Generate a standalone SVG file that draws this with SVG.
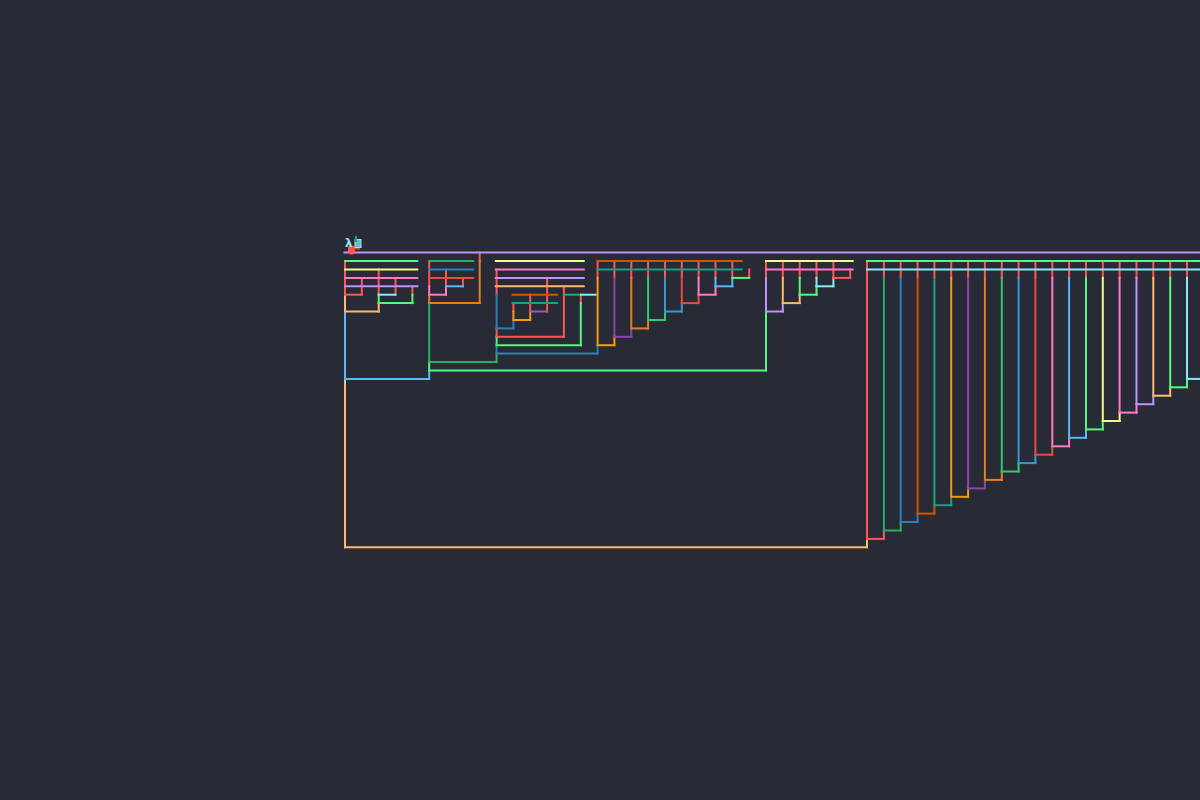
<svg xmlns="http://www.w3.org/2000/svg" width="1200" height="800" viewBox="0 0 1200 800">
<style>
line{stroke-width:2;stroke-linecap:square;fill:none}
.r{stroke:#ff5555}.lav{stroke:#bd93f9}.g{stroke:#50fa7b}.y{stroke:#f1fa8c}.pk{stroke:#ff79c6}
.cy{stroke:#8be9fd}.pe{stroke:#ffb86c}.lb{stroke:#5ab9f2}.dg{stroke:#27ae60}.bl{stroke:#2980b9}
.rd{stroke:#e74c3c}.do{stroke:#d35400}.tl{stroke:#16a085}.or{stroke:#f39c12}.pu{stroke:#8e44ad}
.pu2{stroke:#9b59b6}.o2{stroke:#e67e22}.g2{stroke:#2ecc71}.b2{stroke:#3498db}
text{font-family:"DejaVu Sans",sans-serif}
</style>
<rect width="1200" height="800" fill="#282a36"/>
<g id="connectors">
<g id="block-a">
<line class="r" x1="345" y1="261" x2="345" y2="294.7"/>
<line class="pe" x1="345" y1="294.7" x2="345" y2="311.5"/>
<line class="lb" x1="345" y1="311.5" x2="345" y2="378.9"/>
<line class="pe" x1="345" y1="378.9" x2="345" y2="547.3"/>
<line class="r" x1="361.8" y1="277.9" x2="361.8" y2="294.7"/>
<line class="r" x1="378.7" y1="269.4" x2="378.7" y2="294.7"/>
<line class="g" x1="378.7" y1="294.7" x2="378.7" y2="303.1"/>
<line class="pe" x1="378.7" y1="303.1" x2="378.7" y2="311.5"/>
<line class="r" x1="395.5" y1="277.9" x2="395.5" y2="294.7"/>
<line class="r" x1="412.4" y1="286.3" x2="412.4" y2="294.7"/>
<line class="g" x1="412.4" y1="294.7" x2="412.4" y2="303.1"/>
<line class="r" x1="345" y1="294.7" x2="361.8" y2="294.7"/>
<line class="cy" x1="378.7" y1="294.7" x2="395.5" y2="294.7"/>
<line class="g" x1="378.7" y1="303.1" x2="412.4" y2="303.1"/>
<line class="pe" x1="345" y1="311.5" x2="378.7" y2="311.5"/>
<line class="g" x1="345" y1="261" x2="417.3" y2="261"/>
<line class="y" x1="345" y1="269.4" x2="417.3" y2="269.4"/>
<line class="pk" x1="345" y1="277.9" x2="417.3" y2="277.9"/>
<line class="lav" x1="345" y1="286.3" x2="417.3" y2="286.3"/>
</g>
<g id="block-b">
<line class="r" x1="429.2" y1="261" x2="429.2" y2="286.3"/>
<line class="pk" x1="429.2" y1="286.3" x2="429.2" y2="294.7"/>
<line class="o2" x1="429.2" y1="294.7" x2="429.2" y2="303.1"/>
<line class="dg" x1="429.2" y1="303.1" x2="429.2" y2="362.1"/>
<line class="g" x1="429.2" y1="362.1" x2="429.2" y2="370.5"/>
<line class="lb" x1="429.2" y1="370.5" x2="429.2" y2="378.9"/>
<line class="r" x1="446" y1="269.4" x2="446" y2="286.3"/>
<line class="pk" x1="446" y1="286.3" x2="446" y2="294.7"/>
<line class="r" x1="462.9" y1="277.9" x2="462.9" y2="286.3"/>
<line class="r" x1="479.7" y1="252.6" x2="479.7" y2="261"/>
<line class="o2" x1="479.7" y1="261" x2="479.7" y2="303.1"/>
<line class="lb" x1="446" y1="286.3" x2="462.9" y2="286.3"/>
<line class="pk" x1="429.2" y1="294.7" x2="446" y2="294.7"/>
<line class="o2" x1="429.2" y1="303.1" x2="479.7" y2="303.1"/>
<line class="dg" x1="429" y1="261" x2="473.3" y2="261"/>
<line class="bl" x1="429" y1="269.4" x2="473.3" y2="269.4"/>
<line class="rd" x1="429" y1="277.9" x2="473.3" y2="277.9"/>
</g>
<g id="block-c">
<line class="r" x1="496.6" y1="269.4" x2="496.6" y2="294.7"/>
<line class="bl" x1="496.6" y1="294.7" x2="496.6" y2="328.4"/>
<line class="r" x1="496.6" y1="328.4" x2="496.6" y2="336.8"/>
<line class="g" x1="496.6" y1="336.8" x2="496.6" y2="345.2"/>
<line class="bl" x1="496.6" y1="345.2" x2="496.6" y2="353.6"/>
<line class="dg" x1="496.6" y1="353.6" x2="496.6" y2="362.1"/>
<line class="r" x1="513.4" y1="303.1" x2="513.4" y2="311.5"/>
<line class="or" x1="513.4" y1="311.5" x2="513.4" y2="320"/>
<line class="bl" x1="513.4" y1="320" x2="513.4" y2="328.4"/>
<line class="r" x1="530.2" y1="294.7" x2="530.2" y2="311.5"/>
<line class="or" x1="530.2" y1="311.5" x2="530.2" y2="320"/>
<line class="r" x1="547.1" y1="277.9" x2="547.1" y2="311.5"/>
<line class="r" x1="563.9" y1="286.3" x2="563.9" y2="336.8"/>
<line class="r" x1="580.8" y1="294.7" x2="580.8" y2="303.1"/>
<line class="g" x1="580.8" y1="303.1" x2="580.8" y2="345.2"/>
<line class="pu2" x1="530.2" y1="311.5" x2="547.1" y2="311.5"/>
<line class="or" x1="513.4" y1="320" x2="530.2" y2="320"/>
<line class="bl" x1="496.6" y1="328.4" x2="513.4" y2="328.4"/>
<line class="r" x1="496.6" y1="336.8" x2="563.9" y2="336.8"/>
<line class="g" x1="496.6" y1="345.2" x2="580.8" y2="345.2"/>
<line class="bl" x1="496.6" y1="353.6" x2="597.6" y2="353.6"/>
<line class="y" x1="495.8" y1="261" x2="583.7" y2="261"/>
<line class="pk" x1="495.8" y1="269.4" x2="583.7" y2="269.4"/>
<line class="lav" x1="495.8" y1="277.9" x2="583.7" y2="277.9"/>
<line class="pe" x1="495.8" y1="286.3" x2="583.7" y2="286.3"/>
<line class="do" x1="512.6" y1="294.7" x2="557" y2="294.7"/>
<line class="tl" x1="512.6" y1="303.1" x2="557" y2="303.1"/>
<line class="dg" x1="564.5" y1="294.7" x2="580" y2="294.7"/>
<line class="cy" x1="581" y1="294.7" x2="595.7" y2="294.7"/>
</g>
<g id="block-d">
<line class="r" x1="597.6" y1="261" x2="597.6" y2="277.9"/>
<line class="or" x1="597.6" y1="277.9" x2="597.6" y2="345.2"/>
<line class="bl" x1="597.6" y1="345.2" x2="597.6" y2="353.6"/>
<line class="r" x1="614.4" y1="261" x2="614.4" y2="277.9"/>
<line class="pu" x1="614.4" y1="277.9" x2="614.4" y2="336.8"/>
<line class="or" x1="614.4" y1="336.8" x2="614.4" y2="345.2"/>
<line class="r" x1="631.3" y1="261" x2="631.3" y2="277.9"/>
<line class="o2" x1="631.3" y1="277.9" x2="631.3" y2="328.4"/>
<line class="pu" x1="631.3" y1="328.4" x2="631.3" y2="336.8"/>
<line class="r" x1="648.1" y1="261" x2="648.1" y2="277.9"/>
<line class="g2" x1="648.1" y1="277.9" x2="648.1" y2="320"/>
<line class="o2" x1="648.1" y1="320" x2="648.1" y2="328.4"/>
<line class="r" x1="665" y1="261" x2="665" y2="277.9"/>
<line class="b2" x1="665" y1="277.9" x2="665" y2="311.5"/>
<line class="g2" x1="665" y1="311.5" x2="665" y2="320"/>
<line class="r" x1="681.8" y1="261" x2="681.8" y2="277.9"/>
<line class="rd" x1="681.8" y1="277.9" x2="681.8" y2="303.1"/>
<line class="b2" x1="681.8" y1="303.1" x2="681.8" y2="311.5"/>
<line class="r" x1="698.6" y1="261" x2="698.6" y2="277.9"/>
<line class="pk" x1="698.6" y1="277.9" x2="698.6" y2="294.7"/>
<line class="rd" x1="698.6" y1="294.7" x2="698.6" y2="303.1"/>
<line class="r" x1="715.5" y1="261" x2="715.5" y2="277.9"/>
<line class="lb" x1="715.5" y1="277.9" x2="715.5" y2="286.3"/>
<line class="pk" x1="715.5" y1="286.3" x2="715.5" y2="294.7"/>
<line class="r" x1="732.3" y1="261" x2="732.3" y2="277.9"/>
<line class="lb" x1="732.3" y1="277.9" x2="732.3" y2="286.3"/>
<line class="r" x1="749.2" y1="269.4" x2="749.2" y2="277.9"/>
<line class="or" x1="597.6" y1="345.2" x2="614.4" y2="345.2"/>
<line class="pu" x1="614.4" y1="336.8" x2="631.3" y2="336.8"/>
<line class="o2" x1="631.3" y1="328.4" x2="648.1" y2="328.4"/>
<line class="g2" x1="648.1" y1="320" x2="665" y2="320"/>
<line class="b2" x1="665" y1="311.5" x2="681.8" y2="311.5"/>
<line class="rd" x1="681.8" y1="303.1" x2="698.6" y2="303.1"/>
<line class="pk" x1="698.6" y1="294.7" x2="715.5" y2="294.7"/>
<line class="lb" x1="715.5" y1="286.3" x2="732.3" y2="286.3"/>
<line class="g" x1="732.3" y1="277.9" x2="749.2" y2="277.9"/>
<line class="do" x1="597.5" y1="261" x2="741.7" y2="261"/>
<line class="tl" x1="597.5" y1="269.4" x2="741.7" y2="269.4"/>
</g>
<g id="block-e">
<line class="r" x1="766" y1="261" x2="766" y2="277.9"/>
<line class="lav" x1="766" y1="277.9" x2="766" y2="311.5"/>
<line class="g" x1="766" y1="311.5" x2="766" y2="370.5"/>
<line class="r" x1="782.8" y1="261" x2="782.8" y2="277.9"/>
<line class="pe" x1="782.8" y1="277.9" x2="782.8" y2="303.1"/>
<line class="lav" x1="782.8" y1="303.1" x2="782.8" y2="311.5"/>
<line class="r" x1="799.7" y1="261" x2="799.7" y2="277.9"/>
<line class="g" x1="799.7" y1="277.9" x2="799.7" y2="294.7"/>
<line class="pe" x1="799.7" y1="294.7" x2="799.7" y2="303.1"/>
<line class="r" x1="816.5" y1="261" x2="816.5" y2="277.9"/>
<line class="cy" x1="816.5" y1="277.9" x2="816.5" y2="286.3"/>
<line class="g" x1="816.5" y1="286.3" x2="816.5" y2="294.7"/>
<line class="r" x1="833.4" y1="261" x2="833.4" y2="277.9"/>
<line class="cy" x1="833.4" y1="277.9" x2="833.4" y2="286.3"/>
<line class="r" x1="850.2" y1="269.4" x2="850.2" y2="277.9"/>
<line class="lav" x1="766" y1="311.5" x2="782.8" y2="311.5"/>
<line class="pe" x1="782.8" y1="303.1" x2="799.7" y2="303.1"/>
<line class="g" x1="799.7" y1="294.7" x2="816.5" y2="294.7"/>
<line class="cy" x1="816.5" y1="286.3" x2="833.4" y2="286.3"/>
<line class="r" x1="833.4" y1="277.9" x2="850.2" y2="277.9"/>
<line class="y" x1="766" y1="261" x2="852.7" y2="261"/>
<line class="pk" x1="766" y1="269.4" x2="852.7" y2="269.4"/>
</g>
<g id="joins">
<line class="dg" x1="429.2" y1="362.1" x2="496.6" y2="362.1"/>
<line class="g" x1="429.2" y1="370.5" x2="766" y2="370.5"/>
<line class="lb" x1="345" y1="378.9" x2="429.2" y2="378.9"/>
<line class="pe" x1="345" y1="547.3" x2="867" y2="547.3"/>
</g>
<g id="block-f">
<line class="r" x1="867" y1="261" x2="867" y2="538.9"/>
<line class="pe" x1="867" y1="538.9" x2="867" y2="547.3"/>
<line class="r" x1="883.9" y1="261" x2="883.9" y2="277.9"/><line class="dg" x1="883.9" y1="277.9" x2="883.9" y2="530.5"/><line class="r" x1="883.9" y1="530.5" x2="883.9" y2="538.9"/>
<line class="r" x1="900.7" y1="261" x2="900.7" y2="277.9"/><line class="bl" x1="900.7" y1="277.9" x2="900.7" y2="522"/><line class="dg" x1="900.7" y1="522" x2="900.7" y2="530.5"/>
<line class="r" x1="917.6" y1="261" x2="917.6" y2="277.9"/><line class="do" x1="917.6" y1="277.9" x2="917.6" y2="513.6"/><line class="bl" x1="917.6" y1="513.6" x2="917.6" y2="522"/>
<line class="r" x1="934.4" y1="261" x2="934.4" y2="277.9"/><line class="tl" x1="934.4" y1="277.9" x2="934.4" y2="505.2"/><line class="do" x1="934.4" y1="505.2" x2="934.4" y2="513.6"/>
<line class="r" x1="951.2" y1="261" x2="951.2" y2="277.9"/><line class="or" x1="951.2" y1="277.9" x2="951.2" y2="496.8"/><line class="tl" x1="951.2" y1="496.8" x2="951.2" y2="505.2"/>
<line class="r" x1="968.1" y1="261" x2="968.1" y2="277.9"/><line class="pu" x1="968.1" y1="277.9" x2="968.1" y2="488.4"/><line class="or" x1="968.1" y1="488.4" x2="968.1" y2="496.8"/>
<line class="r" x1="984.9" y1="261" x2="984.9" y2="277.9"/><line class="o2" x1="984.9" y1="277.9" x2="984.9" y2="479.9"/><line class="pu" x1="984.9" y1="479.9" x2="984.9" y2="488.4"/>
<line class="r" x1="1001.8" y1="261" x2="1001.8" y2="277.9"/><line class="g2" x1="1001.8" y1="277.9" x2="1001.8" y2="471.5"/><line class="o2" x1="1001.8" y1="471.5" x2="1001.8" y2="479.9"/>
<line class="r" x1="1018.6" y1="261" x2="1018.6" y2="277.9"/><line class="b2" x1="1018.6" y1="277.9" x2="1018.6" y2="463.1"/><line class="g2" x1="1018.6" y1="463.1" x2="1018.6" y2="471.5"/>
<line class="r" x1="1035.4" y1="261" x2="1035.4" y2="277.9"/><line class="rd" x1="1035.4" y1="277.9" x2="1035.4" y2="454.7"/><line class="b2" x1="1035.4" y1="454.7" x2="1035.4" y2="463.1"/>
<line class="r" x1="1052.3" y1="261" x2="1052.3" y2="277.9"/><line class="pk" x1="1052.3" y1="277.9" x2="1052.3" y2="446.3"/><line class="rd" x1="1052.3" y1="446.3" x2="1052.3" y2="454.7"/>
<line class="r" x1="1069.1" y1="261" x2="1069.1" y2="277.9"/><line class="lb" x1="1069.1" y1="277.9" x2="1069.1" y2="437.8"/><line class="pk" x1="1069.1" y1="437.8" x2="1069.1" y2="446.3"/>
<line class="r" x1="1086" y1="261" x2="1086" y2="277.9"/><line class="g" x1="1086" y1="277.9" x2="1086" y2="429.4"/><line class="lb" x1="1086" y1="429.4" x2="1086" y2="437.8"/>
<line class="r" x1="1102.8" y1="261" x2="1102.8" y2="277.9"/><line class="y" x1="1102.8" y1="277.9" x2="1102.8" y2="421"/><line class="g" x1="1102.8" y1="421" x2="1102.8" y2="429.4"/>
<line class="r" x1="1119.6" y1="261" x2="1119.6" y2="277.9"/><line class="pk" x1="1119.6" y1="277.9" x2="1119.6" y2="412.6"/><line class="y" x1="1119.6" y1="412.6" x2="1119.6" y2="421"/>
<line class="r" x1="1136.5" y1="261" x2="1136.5" y2="277.9"/><line class="lav" x1="1136.5" y1="277.9" x2="1136.5" y2="404.2"/><line class="pk" x1="1136.5" y1="404.2" x2="1136.5" y2="412.6"/>
<line class="r" x1="1153.3" y1="261" x2="1153.3" y2="277.9"/><line class="pe" x1="1153.3" y1="277.9" x2="1153.3" y2="395.7"/><line class="lav" x1="1153.3" y1="395.7" x2="1153.3" y2="404.2"/>
<line class="r" x1="1170.2" y1="261" x2="1170.2" y2="277.9"/><line class="g" x1="1170.2" y1="277.9" x2="1170.2" y2="387.3"/><line class="pe" x1="1170.2" y1="387.3" x2="1170.2" y2="395.7"/>
<line class="r" x1="1187" y1="261" x2="1187" y2="277.9"/><line class="cy" x1="1187" y1="277.9" x2="1187" y2="378.9"/><line class="g" x1="1187" y1="378.9" x2="1187" y2="387.3"/>
<line class="r" x1="867" y1="538.9" x2="883.9" y2="538.9"/>
<line class="dg" x1="883.9" y1="530.5" x2="900.7" y2="530.5"/>
<line class="bl" x1="900.7" y1="522" x2="917.6" y2="522"/>
<line class="do" x1="917.6" y1="513.6" x2="934.4" y2="513.6"/>
<line class="tl" x1="934.4" y1="505.2" x2="951.2" y2="505.2"/>
<line class="or" x1="951.2" y1="496.8" x2="968.1" y2="496.8"/>
<line class="pu" x1="968.1" y1="488.4" x2="984.9" y2="488.4"/>
<line class="o2" x1="984.9" y1="479.9" x2="1001.8" y2="479.9"/>
<line class="g2" x1="1001.8" y1="471.5" x2="1018.6" y2="471.5"/>
<line class="b2" x1="1018.6" y1="463.1" x2="1035.4" y2="463.1"/>
<line class="rd" x1="1035.4" y1="454.7" x2="1052.3" y2="454.7"/>
<line class="pk" x1="1052.3" y1="446.3" x2="1069.1" y2="446.3"/>
<line class="lb" x1="1069.1" y1="437.8" x2="1086" y2="437.8"/>
<line class="g" x1="1086" y1="429.4" x2="1102.8" y2="429.4"/>
<line class="y" x1="1102.8" y1="421" x2="1119.6" y2="421"/>
<line class="pk" x1="1119.6" y1="412.6" x2="1136.5" y2="412.6"/>
<line class="lav" x1="1136.5" y1="404.2" x2="1153.3" y2="404.2"/>
<line class="pe" x1="1153.3" y1="395.7" x2="1170.2" y2="395.7"/>
<line class="g" x1="1170.2" y1="387.3" x2="1187" y2="387.3"/>
<line class="cy" x1="1187" y1="378.9" x2="1205" y2="378.9"/>
<line class="g" x1="867" y1="261" x2="1205" y2="261"/>
<line class="cy" x1="867" y1="269.4" x2="1205" y2="269.4"/>
</g>
<g id="top">
<line class="lav" x1="344.5" y1="252.6" x2="1205" y2="252.6"/>
</g>
</g>
<g id="label">
<rect x="348" y="245.5" width="7" height="9" rx="3" fill="#ff5555"/>
<line x1="355" y1="248.5" x2="359" y2="248.5" stroke="#d35400" stroke-width="1.5"/>
<rect x="355" y="239.5" width="6" height="8" fill="#8be9fd" fill-opacity="0.75" stroke="#8be9fd" stroke-width="1"/>
<line x1="356" y1="237" x2="356" y2="241" stroke="#16a085" stroke-width="1.5"/>
<text x="345" y="247" font-size="12" font-weight="bold" fill="#8be9fd">λ</text>
</g>
</svg>
